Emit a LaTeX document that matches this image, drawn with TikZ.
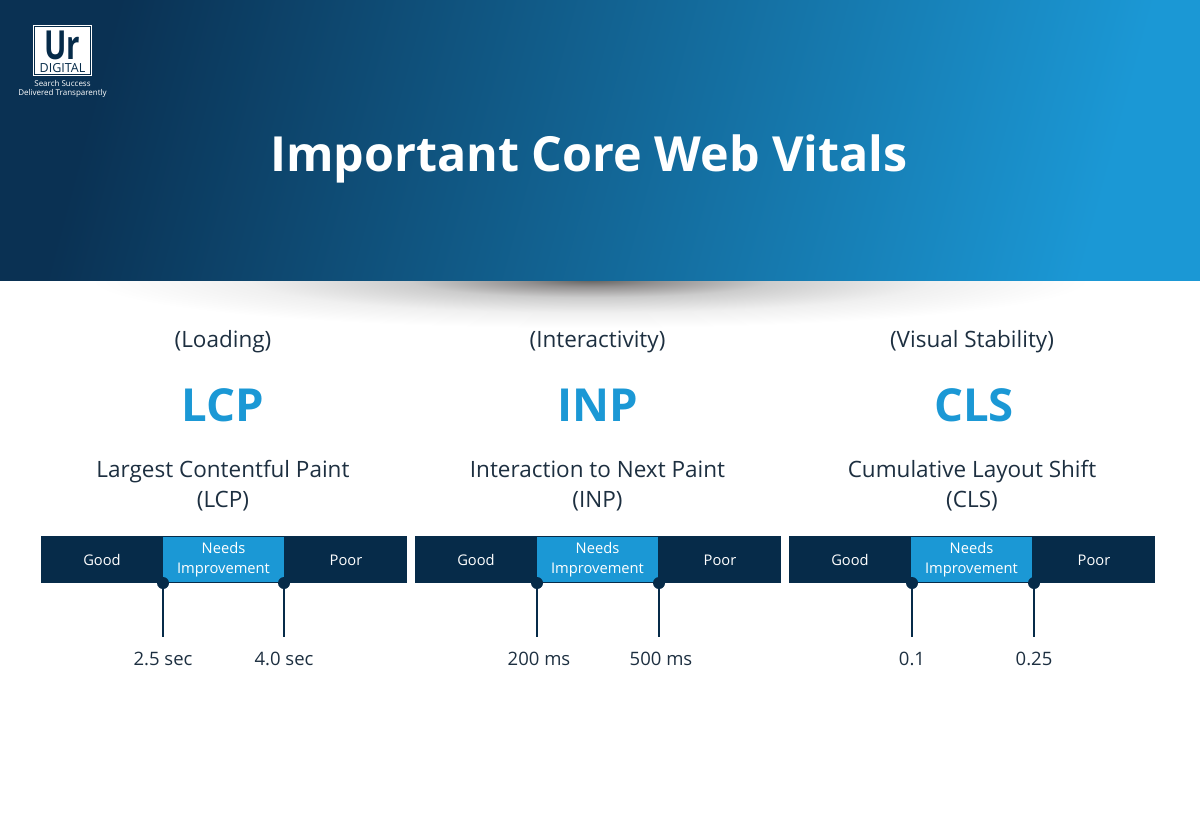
\documentclass[tikz,border=0pt]{standalone}
\usepackage{fontspec}
\setmainfont{Open Sans}
\usetikzlibrary{positioning, shapes.geometric}
\definecolor{navy}{HTML}{062B49}
\definecolor{sky}{HTML}{1B98D5}
\definecolor{ink}{HTML}{1D2F40}
\definecolor{deep}{HTML}{0A3153}
\definecolor{midblue}{HTML}{0E5C8A}
\pgfdeclareradialshading{dropfade}{\pgfpoint{0bp}{0bp}}{rgb(0bp)=(0.40,0.39,0.38); rgb(3.5bp)=(0.58,0.57,0.57); rgb(9bp)=(0.80,0.80,0.80); rgb(17bp)=(0.94,0.94,0.94); rgb(25bp)=(1,1,1); rgb(100bp)=(1,1,1)}
\tikzset{
    textnode/.style  = {draw=none, fill=none, rectangle, inner sep = 0em, node distance=0em, text=ink, font=\fontsize{22.5}{30}\selectfont},
    headnode/.style  = {textnode, text=sky, font=\fontsize{45.5}{50}\selectfont\bfseries},
    ticknode/.style  = {textnode, font=\fontsize{18.5}{20}\selectfont},
    barnode/.style   = {draw=none, fill=navy, rectangle, inner sep = 0em, node distance=0em, minimum width=122pt, minimum height=47pt,
      text=white, font=\fontsize{14.7}{20}\selectfont, text height=12pt, text depth=0pt},
    midnode/.style   = {draw=navy, fill=sky, rectangle, inner sep = 0em, node distance=0em, minimum width=122pt, minimum height=46pt,
      text=white, font=\fontsize{14.7}{20}\selectfont, execute at begin node=\rule{0pt}{17pt}},
    dotnode/.style   = {draw=none, fill=navy, circle, minimum size=12pt, inner sep = 0em, node distance=0em},
    connect/.style   = {navy, line width=1.5pt},
    every text node part/.style={align=center}
}

\begin{document}
\begin{tikzpicture}[x=1pt, y=-1pt, node distance=0em]
\useasboundingbox (0,0) rectangle (1200,825);
\shade [shading=dropfade] (90,232) rectangle (1090,328);
\shade [left color=deep, middle color=midblue, right color=sky, shading angle=75] (0,0) rectangle (1200,280);

% logo
\node [draw=none, fill=white, minimum width=59pt, minimum height=51pt, inner sep=0pt, name=logo] at (62.5,50.5) {};
\node [draw=navy, line width=0.5pt, minimum width=56pt, minimum height=48pt, inner sep=0pt, name=logoin] at (62.5,50.5) {};
\node [textnode, text=navy, font=\fontsize{40}{40}\selectfont\bfseries, text depth=0pt, name=ur] at (62,45) {\scalebox{.74}[1]{Ur}};
\node [textnode, text=navy, font=\fontsize{12.5}{13}\selectfont, name=digital] at (62.5,68) {DIGITAL};
\node [textnode, text=white, font=\fontsize{8}{9}\selectfont, name=tagline] at (62.5,88.5) {Search Success\\Delivered Transparently};

\node [textnode, text=white, font=\fontsize{48.4}{56}\selectfont\bfseries, name=title] at (589,159) {Important Core Web Vitals};

\node [textnode, name=kind0] at (223,342) {(Loading)};
\node [headnode, name=head0, below of = kind0, yshift=-63pt] {LCP};
\node [textnode, name=desc0, below of = head0, yshift=-81pt] {Largest Contentful Paint\\(LCP)};
\node [barnode, name=good0] at (102,559.5) {Good};
\node [midnode, name=mid0, right of = good0, xshift=121.5pt] {Needs\\Improvement};
\node [barnode, name=poor0, right of = mid0, xshift=122.5pt] {Poor};
\node [dotnode, name=dota0] at (163,583) {};
\node [dotnode, name=dotb0] at (284,583) {};
\node [ticknode, name=val0, below of = dota0, yshift=-76pt] {2.5 sec};
\node [ticknode, name=vbl0, below of = dotb0, yshift=-76pt] {4.0 sec};
\coordinate [below of = dota0, yshift=-54pt] (enda0);
\coordinate [below of = dotb0, yshift=-54pt] (endb0);
\draw [connect] (dota0) -- (enda0);
\draw [connect] (dotb0) -- (endb0);

\node [textnode, name=kind1] at (597.5,342) {(Interactivity)};
\node [headnode, name=head1, below of = kind1, yshift=-63pt] {INP};
\node [textnode, name=desc1, below of = head1, yshift=-81pt] {Interaction to Next Paint\\(INP)};
\node [barnode, name=good1, right of = good0, xshift=374pt] {Good};
\node [midnode, name=mid1, right of = good1, xshift=121.5pt] {Needs\\Improvement};
\node [barnode, name=poor1, right of = mid1, xshift=122.5pt] {Poor};
\node [dotnode, name=dota1, right of = dota0, xshift=374pt] {};
\node [dotnode, name=dotb1, right of = dotb0, xshift=375pt] {};
\node [ticknode, name=val1, below of = dota1, yshift=-76pt, xshift=2pt] {200 ms};
\node [ticknode, name=vbl1, below of = dotb1, yshift=-76pt, xshift=2pt] {500 ms};
\coordinate [below of = dota1, yshift=-54pt] (enda1);
\coordinate [below of = dotb1, yshift=-54pt] (endb1);
\draw [connect] (dota1) -- (enda1);
\draw [connect] (dotb1) -- (endb1);

\node [textnode, name=kind2] at (972,342) {(Visual Stability)};
\node [headnode, name=head2, below of = kind2, yshift=-63pt, xshift=2pt] {CLS};
\node [textnode, name=desc2, below of = head2, yshift=-81pt, xshift=-2pt] {Cumulative Layout Shift\\(CLS)};
\node [barnode, name=good2, right of = good1, xshift=374pt] {Good};
\node [midnode, name=mid2, right of = good2, xshift=121.5pt] {Needs\\Improvement};
\node [barnode, name=poor2, right of = mid2, xshift=122.5pt] {Poor};
\node [dotnode, name=dota2, right of = dota1, xshift=375pt] {};
\node [dotnode, name=dotb2, right of = dotb1, xshift=375pt] {};
\node [ticknode, name=val2, below of = dota2, yshift=-76pt] {0.1};
\node [ticknode, name=vbl2, below of = dotb2, yshift=-76pt] {0.25};
\coordinate [below of = dota2, yshift=-54pt] (enda2);
\coordinate [below of = dotb2, yshift=-54pt] (endb2);
\draw [connect] (dota2) -- (enda2);
\draw [connect] (dotb2) -- (endb2);
\end{tikzpicture}
\end{document}
